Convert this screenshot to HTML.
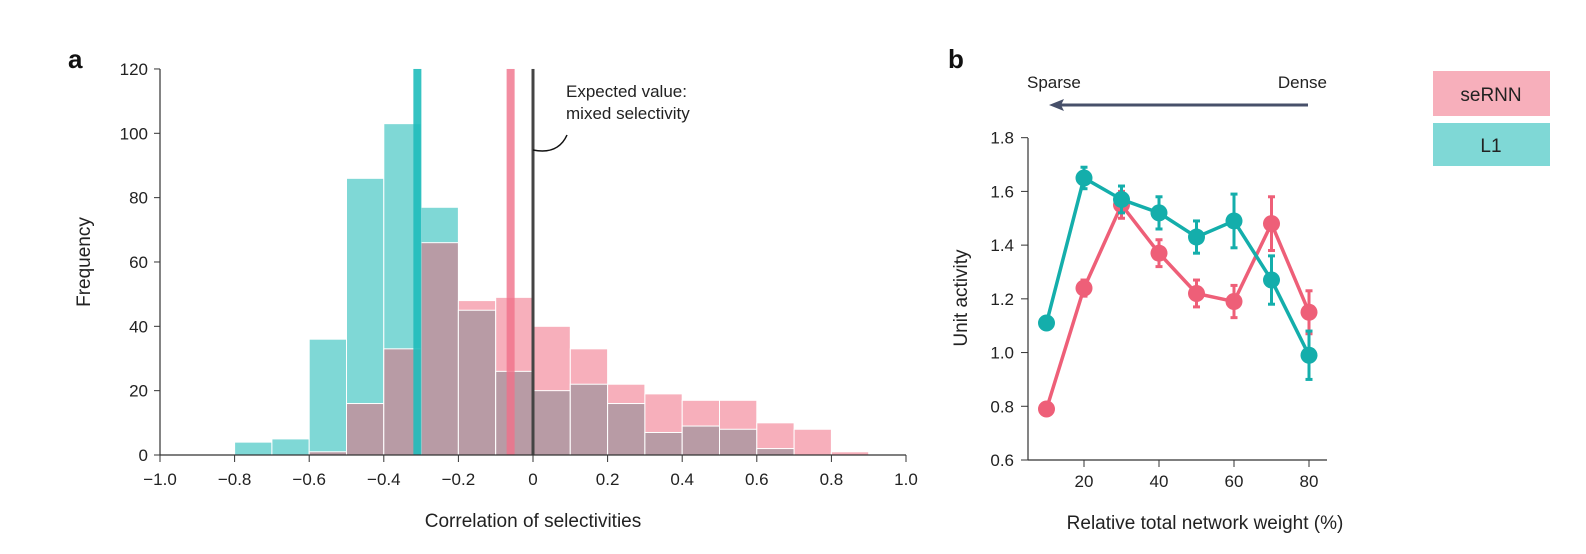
<!DOCTYPE html>
<html><head><meta charset="utf-8"><style>
body{margin:0;background:#fff;}
svg{display:block;font-family:"Liberation Sans",sans-serif;}
</style></head><body>
<svg id="chart" width="1586" height="554">
<g id="pa"></g>
<g id="pb"></g>
</svg>
<script>
const binStarts=[-0.8,-0.7,-0.6,-0.5,-0.4,-0.3,-0.2,-0.1,0,0.1,0.2,0.3,0.4,0.5,0.6,0.7,0.8];
const l1Counts=[4,5,36,86,103,77,45,26,20,22,16,7,9,8,2,0,0];
const seCounts=[0,0,1,16,33,66,48,49,40,33,22,19,17,17,10,8,1];
const histXTicks=[-1.0,-0.8,-0.6,-0.4,-0.2,0,0.2,0.4,0.6,0.8,1.0];
const histYTicks=[0,20,40,60,80,100,120];
const l1Mean=-0.31, seMean=-0.06, expected=0;
const weights=[10,20,30,40,50,60,70,80];
const l1Act=[1.11,1.65,1.57,1.52,1.43,1.49,1.27,0.99];
const l1Err=[0,0.04,0.05,0.06,0.06,0.10,0.09,0.09];
const seAct=[0.79,1.24,1.55,1.37,1.22,1.19,1.48,1.15];
const seErr=[0,0.03,0.05,0.05,0.05,0.06,0.10,0.08];
const lineXTicks=[20,40,60,80];
const lineYTicks=[0.6,0.8,1.0,1.2,1.4,1.6,1.8];

const NS="http://www.w3.org/2000/svg";
function mk(p,t,a,txt){const e=document.createElementNS(NS,t);for(const k in a)e.setAttribute(k,a[k]);if(txt!==undefined)e.textContent=txt;p.appendChild(e);return e;}
const pa=document.getElementById('pa'), pb=document.getElementById('pb');
const sx=v=>160+(v+1)*373, sy=v=>455-v*3.217;
// bars
binStarts.forEach((b,i)=>{
  const x0=sx(b),w=sx(b+0.1)-x0,l=l1Counts[i],s=seCounts[i],m=Math.min(l,s),M=Math.max(l,s);
  if(M>0){const r=mk(pa,'rect',{x:x0,y:sy(M),width:w,height:sy(0)-sy(M),fill:l>s?'#7fd8d6':'#f7afbb',stroke:'#fff','stroke-width':1});
  
  }
  if(m>0){const r=mk(pa,'rect',{x:x0,y:sy(m),width:w,height:sy(0)-sy(m),fill:'#b89ba5',stroke:'#fff','stroke-width':1});
  
  }
});
let e;
e=mk(pa,'rect',{x:sx(l1Mean)-4,y:sy(120),width:8,height:sy(0)-sy(120),fill:'#1fbcbb',opacity:0.9});

e=mk(pa,'rect',{x:sx(seMean)-4,y:sy(120),width:8,height:sy(0)-sy(120),fill:'#f0708a',opacity:0.8});

e=mk(pa,'rect',{x:sx(expected)-1.5,y:sy(120),width:3,height:sy(0)-sy(120),fill:'#444'});

mk(pa,'path',{d:`M${sx(0)} 150 Q${sx(0)+25} 155 ${sx(0)+34} 135`,fill:'none',stroke:'#111','stroke-width':1.5});
e=mk(pa,'text',{x:566,y:97,'font-size':17,fill:'#222'},'Expected value:');
mk(pa,'text',{x:566,y:119,'font-size':17,fill:'#222'},'mixed selectivity');
// axes
mk(pa,'line',{x1:160,y1:69,x2:160,y2:455,stroke:'#333','stroke-width':1.2});
mk(pa,'line',{x1:160,y1:455,x2:906,y2:455,stroke:'#333','stroke-width':1.2});
histYTicks.forEach(t=>{mk(pa,'line',{x1:154,y1:sy(t),x2:160,y2:sy(t),stroke:'#333'});
 mk(pa,'text',{x:148,y:sy(t)+6,'font-size':17,'text-anchor':'end',fill:'#222'},t);});
histXTicks.forEach(t=>{mk(pa,'line',{x1:sx(t),y1:455,x2:sx(t),y2:462,stroke:'#333'});
 mk(pa,'text',{x:sx(t),y:485,'font-size':17,'text-anchor':'middle',fill:'#222'},t===0?'0':(t<0?'\u2212':'')+Math.abs(t).toFixed(1));});
e=mk(pa,'text',{x:533,y:527,'font-size':19,'text-anchor':'middle',fill:'#222'},'Correlation of selectivities');
e=mk(pa,'text',{x:90,y:262,'font-size':19,'text-anchor':'middle',fill:'#222',transform:'rotate(-90 90 262)'},'Frequency');
e=mk(pa,'text',{x:68,y:68,'font-size':26,'font-weight':'bold',fill:'#111'},'a');

// panel b
const bx=v=>1046.5+(v-10)*3.75, by=v=>460-(v-0.6)*268.6;
mk(pb,'line',{x1:1028,y1:138,x2:1028,y2:460,stroke:'#333','stroke-width':1.2});
mk(pb,'line',{x1:1028,y1:460,x2:1327,y2:460,stroke:'#333','stroke-width':1.2});
lineYTicks.forEach(t=>{mk(pb,'line',{x1:1021,y1:by(t),x2:1028,y2:by(t),stroke:'#333'});
 mk(pb,'text',{x:1014,y:by(t)+6,'font-size':17,'text-anchor':'end',fill:'#222'},t.toFixed(1));});
lineXTicks.forEach(t=>{mk(pb,'line',{x1:bx(t),y1:460,x2:bx(t),y2:467,stroke:'#333'});
 mk(pb,'text',{x:bx(t),y:487,'font-size':17,'text-anchor':'middle',fill:'#222'},t);});
function series(vals,errs,col,name){
  const p=mk(pb,'polyline',{points:vals.map((v,i)=>bx(weights[i])+','+by(v)).join(' '),fill:'none',stroke:col,'stroke-width':3.5});
  
  vals.forEach((v,i)=>{const x=bx(weights[i]);
    if(errs[i]>0){mk(pb,'line',{x1:x,y1:by(v-errs[i]),x2:x,y2:by(v+errs[i]),stroke:col,'stroke-width':3});
      [v-errs[i],v+errs[i]].forEach(q=>mk(pb,'line',{x1:x-3.5,y1:by(q),x2:x+3.5,y2:by(q),stroke:col,'stroke-width':3}));}
    const c=mk(pb,'circle',{cx:x,cy:by(v),r:8.5,fill:col});
    });
}
series(seAct,seErr,'#ee5f78','sernn');
series(l1Act,l1Err,'#14aeab','l1');
e=mk(pb,'text',{x:1205,y:529,'font-size':19,'text-anchor':'middle',fill:'#222'},'Relative total network weight (%)');
e=mk(pb,'text',{x:967,y:298,'font-size':19,'text-anchor':'middle',fill:'#222',transform:'rotate(-90 967 298)'},'Unit activity');
e=mk(pb,'text',{x:948,y:68,'font-size':26,'font-weight':'bold',fill:'#111'},'b');
mk(pb,'text',{x:1027,y:88,'font-size':17,fill:'#222'},'Sparse');
mk(pb,'text',{x:1327,y:88,'font-size':17,'text-anchor':'end',fill:'#222'},'Dense');
e=mk(pb,'line',{x1:1308,y1:105,x2:1058,y2:105,stroke:'#47506a','stroke-width':3});
mk(pb,'path',{d:'M1049 105 L1064 99 L1061 105 L1064 111 Z',fill:'#47506a'});
e=mk(pb,'rect',{x:1433,y:71,width:117,height:45,fill:'#f7afbb'});
mk(pb,'text',{x:1491,y:101,'font-size':19,'text-anchor':'middle',fill:'#222'},'seRNN');
e=mk(pb,'rect',{x:1433,y:123,width:117,height:43,fill:'#7fd8d6'});
mk(pb,'text',{x:1491,y:152,'font-size':19,'text-anchor':'middle',fill:'#222'},'L1');
</script>
</body></html>
